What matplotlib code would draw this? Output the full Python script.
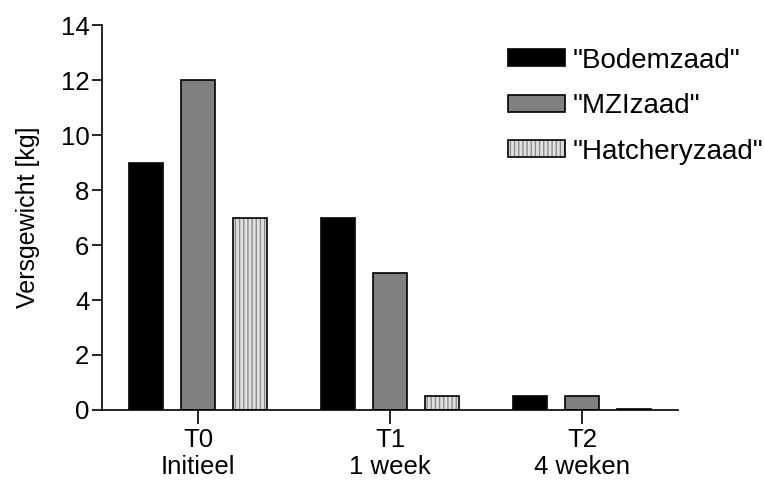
import numpy as np
import matplotlib.pyplot as plt

plt.rcParams['font.family'] = ['Liberation Sans', 'DejaVu Sans']
plt.rcParams['hatch.linewidth'] = 1.0

# data
groups = ['T0\nInitieel', 'T1\n1 week', 'T2\n4 weken']
series = ['"Bodemzaad"', '"MZIzaad"', '"Hatcheryzaad"']
bodemzaad = [9, 7, 0.5]
mzizaad = [12, 5, 0.5]
hatcheryzaad = [7, 0.5, 0.05]

fig = plt.figure(figsize=(7.64, 4.82), dpi=100)
ax = fig.add_axes([0.1335, 0.1494, 0.754, 0.7986])

x = np.arange(len(groups))
w = 0.18
off = 0.27

ax.bar(x - off, bodemzaad, w, color='black', edgecolor='black', linewidth=1.2, label=series[0])
ax.bar(x, mzizaad, w, color='#808080', edgecolor='black', linewidth=1.2, label=series[1])
hb = ax.bar(x + off, hatcheryzaad, w, color='#e0e0e0', edgecolor='black', linewidth=1.2,
            hatch='||||', label=series[2])
for p in hb:
    p._hatch_color = (0.55, 0.55, 0.55, 1.0)

ax.set_xlim(-0.5, 2.5)
ax.set_ylim(0, 14)
ax.set_yticks(range(0, 15, 2))
ax.set_xticks(x)
ax.set_xticklabels(groups, fontsize=18.5, linespacing=1.15)
ax.tick_params(axis='y', labelsize=18.5, length=7, width=1.2, pad=2)
ax.tick_params(axis='x', length=10, width=1.2, pad=3)
ax.spines['top'].set_visible(False)
ax.spines['right'].set_visible(False)
ax.spines['left'].set_linewidth(1.2)
ax.spines['bottom'].set_linewidth(1.2)
ax.set_ylabel('Versgewicht [kg]', fontsize=18, labelpad=15)

leg = ax.legend(loc='upper left', bbox_to_anchor=(0.686, 0.97), frameon=False, fontsize=20,
                handlelength=2.05, handleheight=0.56, labelspacing=0.7, handletextpad=0.27,
                borderaxespad=0)

fig.savefig('out.png', dpi=100)
